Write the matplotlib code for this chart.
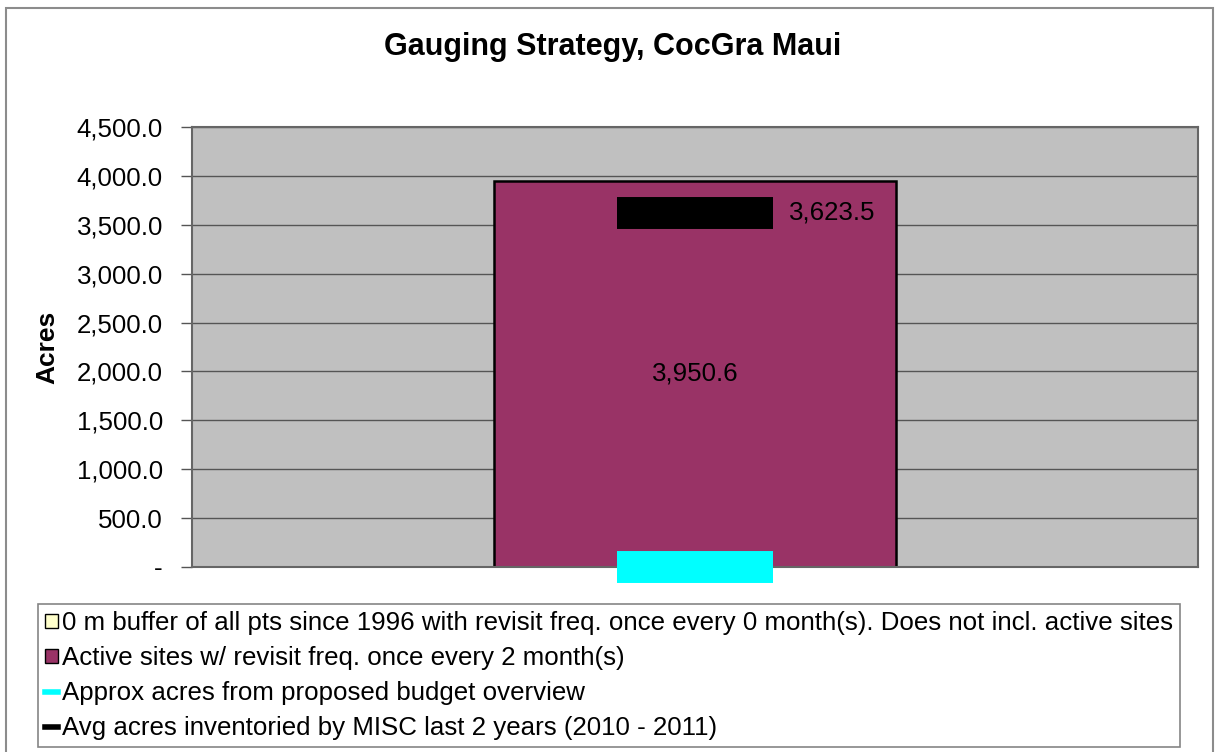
import matplotlib.pyplot as plt
from matplotlib.lines import Line2D
from matplotlib.patches import Patch, Rectangle
from matplotlib.ticker import FuncFormatter

plt.rcParams['font.family'] = ['Liberation Sans', 'DejaVu Sans']

# series values (acres)
categories = ['CocGra Maui']
buffer_acres = [0.0]
active_acres = [3950.6]
budget_acres = [0.0]
misc_avg_acres = [3623.5]

legend_labels = [
    '0 m buffer of all pts since 1996 with revisit freq. once every 0 month(s). Does not incl. active sites',
    'Active sites w/ revisit freq. once every 2 month(s)',
    'Approx acres from proposed budget overview',
    'Avg acres inventoried by MISC last 2 years (2010 - 2011)',
]

W, H = 1216, 752
FS = 18.6
fig = plt.figure(figsize=(W / 100, H / 100), dpi=100)
fig.patch.set_facecolor('white')

# chart border
fig.add_artist(Rectangle((6 / W, -0.01), 1207 / W, 1 - 8 / H + 0.01,
                         transform=fig.transFigure, fill=False,
                         edgecolor='#8c8c8c', linewidth=1.5))

ax = fig.add_axes([192 / W, 1 - 567 / H, (1198 - 192) / W, (567 - 127) / H])
ax.set_facecolor('#c0c0c0')

x = range(len(categories))
ax.bar(x, buffer_acres, width=0.4, color='#ffffcc', edgecolor='black', linewidth=1.5)
ax.bar(x, active_acres, width=0.4, bottom=buffer_acres, color='#993366',
       edgecolor='black', linewidth=1.8, zorder=2)

# dash markers for the two reference lines
ax.plot(x, budget_acres, linestyle='none', marker='_', markersize=112,
        markeredgewidth=23, color='#00ffff', clip_on=False, zorder=4)
ax.plot(x, misc_avg_acres, linestyle='none', marker='_', markersize=112,
        markeredgewidth=23, color='black', zorder=4)

for i in x:
    ax.text(i, buffer_acres[i] + active_acres[i] / 2, f'{active_acres[i]:,.1f}',
            ha='center', va='center', fontsize=FS, zorder=5)
    ax.annotate(f'{misc_avg_acres[i]:,.1f}', (i, misc_avg_acres[i]),
                xytext=(68, 0), textcoords='offset points',
                ha='left', va='center', fontsize=FS, zorder=5)

ax.set_xlim(-0.5, 0.5)
ax.set_ylim(0, 4500)
ax.set_yticks(range(0, 4501, 500))
ax.yaxis.set_major_formatter(FuncFormatter(lambda v, p: '-' if v == 0 else f'{v:,.1f}'))
ax.tick_params(axis='y', labelsize=FS, length=8, width=1, color='#555555', pad=13)
ax.tick_params(axis='x', bottom=False, labelbottom=False)
ax.yaxis.grid(True, color='#555555', linewidth=1)
ax.set_axisbelow(True)
for side in ax.spines.values():
    side.set_color('#666666')
    side.set_linewidth(1.5)

ax.set_ylabel('Acres', fontsize=19, fontweight='bold', labelpad=12)
fig.text(613 / W, 1 - 47 / H, 'Gauging Strategy, CocGra Maui',
         ha='center', va='center', fontsize=22, fontweight='bold')

handles = [
    Patch(facecolor='#ffffcc', edgecolor='black', linewidth=1),
    Patch(facecolor='#993366', edgecolor='black', linewidth=1),
    Line2D([], [], color='#00ffff', linewidth=4),
    Line2D([], [], color='black', linewidth=4),
]
leg = fig.legend(handles, legend_labels, loc='upper left',
                 bbox_to_anchor=(38 / W, 1 - 604 / H), fontsize=FS,
                 frameon=True, fancybox=False, edgecolor='#666666',
                 handlelength=0.5, handleheight=0.5, handletextpad=0.15,
                 labelspacing=0.42, borderpad=0.28, borderaxespad=0)
leg.get_frame().set_linewidth(1.2)

fig.savefig('out.png', dpi=100)
